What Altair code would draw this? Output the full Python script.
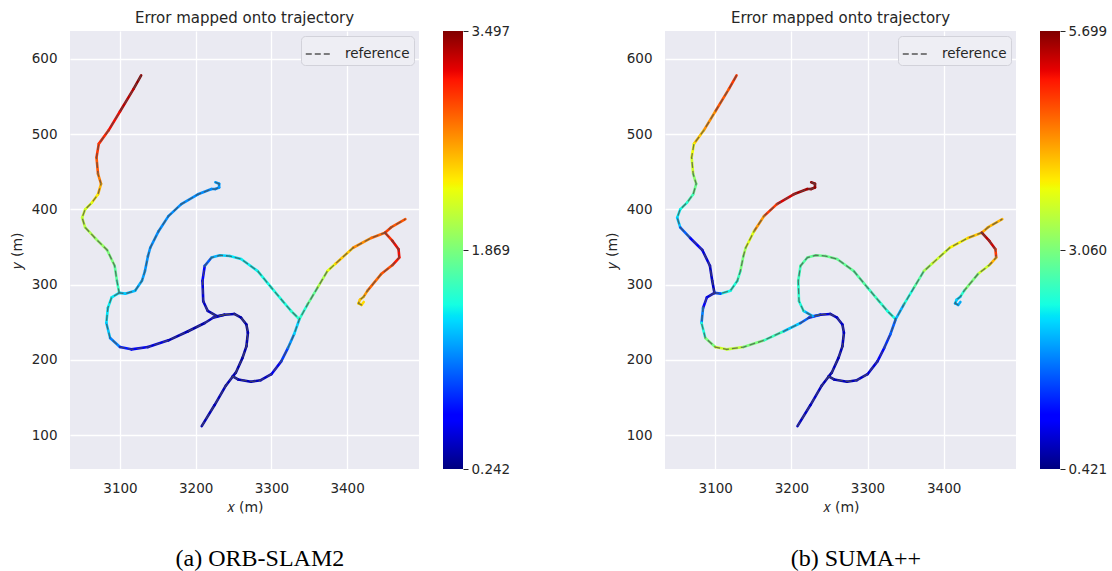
import altair as alt
import pandas as pd

# ---------------- data ----------------
# Polyline 1: north-west arm (end -> junction)
P1_X = [3128, 3118, 3100, 3085, 3072, 3069, 3071, 3075, 3071, 3063, 3054, 3050, 3054, 3067, 3083, 3093, 3096, 3099]
P1_Y = [578, 560, 530, 505, 487, 469, 447, 434, 420, 409, 400, 389, 376, 362, 346, 325, 305, 289]
P1_ORB = [3.45, 3.33, 3.17, 3.07, 3.01, 2.91, 2.78, 2.59, 2.39, 2.26, 2.19, 2.13, 2.06, 1.97, 1.87, 1.74, 1.61, 1.54]
P1_SUMA = [4.91, 4.75, 4.43, 4.12, 3.80, 3.59, 3.17, 2.95, 2.69, 2.48, 2.32, 2.11, 1.58, 1.05, 0.84, 0.74, 0.74, 0.84]

# Polyline 2: arc from the small loop near (3228, 431) down to the junction
P2_X = [3226, 3231, 3231, 3226, 3221, 3203, 3181, 3164, 3151, 3140, 3137, 3133, 3129, 3120, 3107, 3099]
P2_Y = [436, 434, 429, 427, 427, 420, 407, 391, 371, 349, 338, 318, 305, 292, 288, 289]
P2_ORB = [1.15, 1.15, 1.12, 1.10, 1.10, 1.10, 1.10, 1.10, 1.10, 1.12, 1.12, 1.15, 1.20, 1.25, 1.30, 1.35]
P2_SUMA = [5.60, 5.60, 5.60, 5.58, 5.54, 5.28, 4.91, 4.38, 3.70, 3.32, 3.06, 2.64, 2.45, 2.37, 1.48, 0.84]

# Polyline 3: western loop (junction -> centre junction)
P3_X = [3099, 3089, 3084, 3082, 3087, 3100, 3115, 3137, 3164, 3190, 3212, 3223, 3238]
P3_Y = [289, 283, 269, 249, 229, 217, 214, 217, 226, 238, 249, 256, 260]
P3_ORB = [1.38, 1.41, 1.38, 1.28, 1.06, 0.73, 0.57, 0.50, 0.40, 0.37, 0.44, 0.50, 0.44]
P3_SUMA = [0.84, 1.05, 1.74, 2.43, 3.06, 3.59, 3.48, 3.06, 2.64, 2.11, 1.58, 1.21, 0.95]

# Polyline 4: northern loop and the diagonal to the eastern junction
P4_X = [3238, 3228, 3216, 3210, 3209, 3212, 3221, 3232, 3245, 3260, 3282, 3300, 3315, 3326, 3337]
P4_Y = [260, 258, 265, 278, 305, 325, 336, 339, 338, 334, 318, 296, 278, 265, 254]
P4_ORB = [0.40, 0.40, 0.44, 0.50, 0.63, 0.96, 1.22, 1.32, 1.38, 1.41, 1.45, 1.48, 1.48, 1.54, 1.61]
P4_SUMA = [1.48, 2.00, 2.43, 2.53, 2.64, 2.80, 2.90, 2.95, 2.95, 2.90, 2.80, 2.64, 2.53, 2.43, 2.27]

# Polyline 5: S-bend down to the southern start point
P5_X = [3238, 3251, 3260, 3267, 3269, 3267, 3262, 3253, 3249, 3240, 3225, 3208]
P5_Y = [260, 261, 256, 247, 236, 218, 203, 183, 178, 166, 140, 112]
P5_ORB = [0.40, 0.37, 0.37, 0.37, 0.37, 0.37, 0.37, 0.37, 0.40, 0.40, 0.40, 0.40]
P5_SUMA = [0.84, 0.74, 0.74, 0.74, 0.68, 0.68, 0.68, 0.68, 0.68, 0.74, 0.74, 0.74]

# Polyline 6: south-east branch up to the north-east end
P6_X = [3249, 3256, 3273, 3286, 3300, 3313, 3322, 3330, 3337, 3348, 3361, 3374, 3385, 3408, 3432, 3450, 3458, 3477]
P6_Y = [178, 174, 171, 173, 181, 198, 216, 234, 254, 274, 296, 318, 328, 349, 362, 369, 376, 387]
P6_ORB = [0.40, 0.40, 0.40, 0.44, 0.57, 0.83, 1.12, 1.32, 1.54, 1.77, 2.06, 2.29, 2.52, 2.72, 2.85, 2.98, 2.91, 2.85]
P6_SUMA = [0.68, 0.68, 0.68, 0.74, 0.84, 1.05, 1.32, 1.58, 2.00, 2.43, 2.80, 3.32, 3.59, 3.85, 4.12, 4.27, 4.22, 4.12]

# Polyline 7: eastern descent ending in a small hook
P7_X = [3450, 3460, 3468, 3469, 3460, 3445, 3427, 3422, 3417, 3415, 3419, 3422]
P7_Y = [369, 358, 347, 336, 326, 314, 292, 284, 280, 275, 273, 277]
P7_ORB = [3.04, 3.17, 3.17, 3.11, 2.94, 2.85, 2.68, 2.52, 2.52, 2.45, 2.45, 2.45]
P7_SUMA = [5.44, 5.33, 4.91, 4.22, 3.59, 3.06, 2.53, 2.16, 2.16, 2.00, 2.00, 2.00]

POLYLINES = [
    ("p1", P1_X, P1_Y, P1_ORB, P1_SUMA),
    ("p2", P2_X, P2_Y, P2_ORB, P2_SUMA),
    ("p3", P3_X, P3_Y, P3_ORB, P3_SUMA),
    ("p4", P4_X, P4_Y, P4_ORB, P4_SUMA),
    ("p5", P5_X, P5_Y, P5_ORB, P5_SUMA),
    ("p6", P6_X, P6_Y, P6_ORB, P6_SUMA),
    ("p7", P7_X, P7_Y, P7_ORB, P7_SUMA),
]

CBAR_TICKS_ORB = [0.242, 1.869, 3.497]
CBAR_TICKS_SUMA = [0.421, 3.060, 5.699]
X_TICKS = [3100, 3200, 3300, 3400]
Y_TICKS = [100, 200, 300, 400, 500, 600]
CAPTIONS = ["(a) ORB-SLAM2", "(b) SUMA++"]

# matplotlib "jet" colour stops
JET_OFFSETS = [0.0, 0.11, 0.125, 0.34, 0.35, 0.375, 0.64, 0.65, 0.66, 0.89, 0.91, 1.0]
JET_COLORS = ["#000080", "#0000ff", "#0000ff", "#00dbff", "#00e5f7", "#15ffe2",
              "#eeff08", "#f7f500", "#ffec00", "#ff1300", "#e80000", "#800000"]

# ---------------- tables ----------------
ref_rows = []
seg_rows = {0: [], 1: []}
for name, xs, ys, e_orb, e_suma in POLYLINES:
    for i, (x, y) in enumerate(zip(xs, ys)):
        ref_rows.append({"seg": name, "i": i, "x": x, "y": y, "name": "reference"})
    for k, errs in enumerate([e_orb, e_suma]):
        for i in range(len(xs) - 1):
            seg_rows[k].append({"x": xs[i], "y": ys[i], "x2": xs[i + 1], "y2": ys[i + 1], "err": errs[i]})
ref_df = pd.DataFrame(ref_rows)

FONT = "DejaVu Sans"
TXT = "#262626"
XDOM = [3034, 3495]
YDOM = [55, 637]


def panel(k, ticks, width, caption):
    lo, hi = ticks[0], ticks[-1]
    xs = alt.Scale(domain=XDOM, nice=False, zero=False)
    ys = alt.Scale(domain=YDOM, nice=False, zero=False)
    cscale = alt.Scale(domain=[lo + o * (hi - lo) for o in JET_OFFSETS], range=JET_COLORS,
                       interpolate="rgb")
    seg_df = pd.DataFrame(seg_rows[k])
    traj = alt.Chart(seg_df).mark_rule(strokeWidth=2.6, strokeCap="round").encode(
        x=alt.X("x:Q", scale=xs, axis=alt.Axis(values=X_TICKS, title="𝑥 (m)", format="d",
                                                 labelPadding=12, titlePadding=6)),
        y=alt.Y("y:Q", scale=ys, axis=alt.Axis(values=Y_TICKS, title="𝑦 (m)", format="d",
                                                 labelPadding=13, titlePadding=7)),
        x2="x2:Q",
        y2="y2:Q",
        color=alt.Color("err:Q", scale=cscale, legend=None),
    )
    ref = alt.Chart(ref_df).mark_line(color="#4d4d4d", strokeWidth=1.3, opacity=0.75).encode(
        x=alt.X("x:Q", scale=xs),
        y=alt.Y("y:Q", scale=ys),
        detail="seg:N",
        order="i:Q",
        strokeDash=alt.StrokeDash(
            "name:N",
            scale=alt.Scale(domain=["reference"], range=[[6, 3]]),
            legend=alt.Legend(orient="top-right", title=None, offset=5, padding=4,
                              fillColor="#EEEEF4", strokeColor="#D2D2DA", cornerRadius=4,
                              symbolType="stroke", symbolStrokeColor="#555555", symbolOpacity=1,
                              symbolStrokeWidth=1.5, symbolSize=700, labelOffset=12,
                              labelFontSize=13.5, labelFont=FONT, labelColor=TXT),
        ),
    )
    plot = alt.layer(traj, ref).properties(
        width=width, height=438,
        title=alt.TitleParams("Error mapped onto trajectory", fontSize=15, font=FONT,
                              fontWeight="normal", color=TXT, offset=5),
    )
    cb_df = pd.DataFrame({"lo": [lo], "hi": [hi]})
    grad = alt.LinearGradient(
        gradient="linear",
        stops=[alt.GradientStop(color=c, offset=o) for o, c in zip(JET_OFFSETS, JET_COLORS)],
        x1=0, x2=0, y1=1, y2=0,
    )
    cbar = alt.Chart(cb_df).mark_rect(color=grad).encode(
        x=alt.value(0),
        x2=alt.value(20),
        y=alt.Y("lo:Q", scale=alt.Scale(domain=[lo, hi], nice=False, zero=False),
                axis=alt.Axis(orient="right", values=ticks, format=".3f", title=None, grid=False,
                              domain=False, ticks=True, tickSize=5, tickColor=TXT, tickWidth=1,
                              labelPadding=3, labelFontSize=13.5, labelFont=FONT, labelColor=TXT)),
        y2="hi:Q",
    ).properties(width=20, height=438)
    return alt.hconcat(plot, cbar, spacing=24).properties(
        title=alt.TitleParams(caption, orient="bottom", anchor="middle", font="Liberation Serif",
                              fontSize=24, fontWeight="normal", color="black", offset=32)
    ).resolve_scale(color="independent", strokeDash="independent", y="independent")


chart = alt.hconcat(
    panel(0, CBAR_TICKS_ORB, 349, CAPTIONS[0]),
    panel(1, CBAR_TICKS_SUMA, 351, CAPTIONS[1]),
    spacing=95,
).resolve_scale(
    color="independent", strokeDash="independent", y="independent", x="independent"
).resolve_legend(
    strokeDash="independent", color="independent"
).properties(
    padding={"left": 10, "top": 11, "right": 0, "bottom": 0},
    background="white",
).configure_view(
    fill="#EAEAF2", stroke=None
).configure_axis(
    grid=True, gridColor="white", gridWidth=1.3, domain=False, ticks=False,
    labelFont=FONT, labelFontSize=13.5, labelColor=TXT,
    titleFont=FONT, titleFontSize=14, titleFontWeight="normal", titleColor=TXT,
)

chart.save("out.html", embed_options={"renderer": "svg", "actions": False})
